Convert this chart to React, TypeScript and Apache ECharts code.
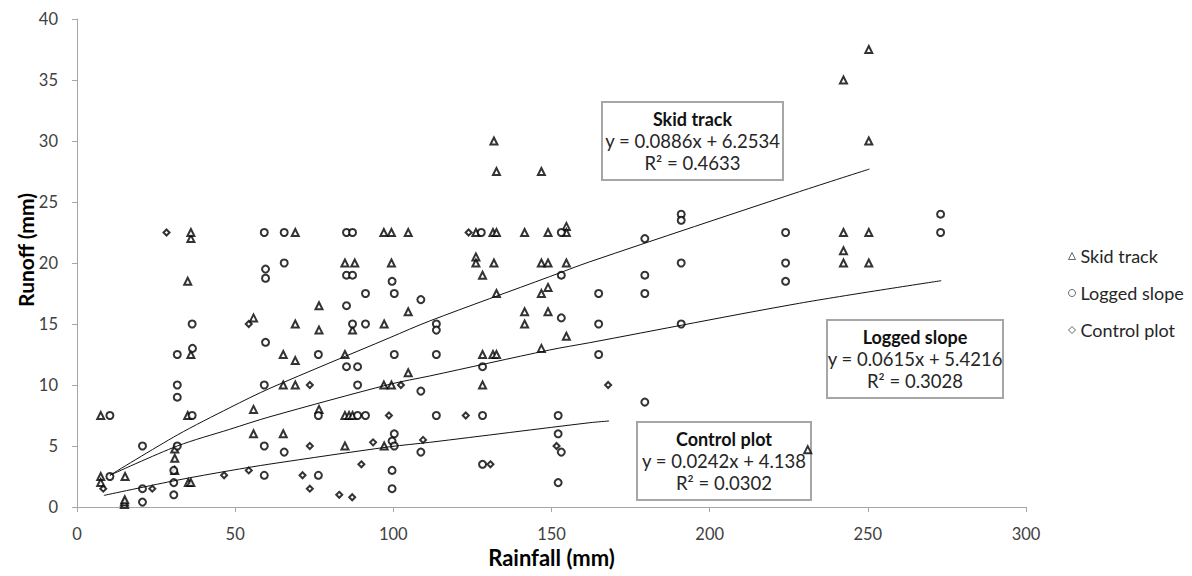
import React, { useEffect, useRef } from "react";
import * as echarts from "echarts";

const seriesNames = ["Skid track", "Logged slope", "Control plot"];

const skidTrack: [number, number][] = [
  [7.5, 7.5], [7.5, 2.5], [7.5, 2], [15.2, 2.5], [15, 0.2], [15, 0.4], [15.1, 0.6],
  [30.9, 4.75], [30.9, 4], [30.9, 3], [35.2, 2], [36, 2], [35, 7.5], [36, 12.5], [35, 18.5], [36, 22], [36, 22.5],
  [55.8, 15.5], [55.8, 8], [55.8, 6],
  [65.2, 12.5], [65.2, 10], [65.2, 6], [69, 22.5], [69, 15], [69, 12], [69, 10],
  [76.5, 16.5], [76.5, 14.5], [76.5, 8],
  [84.7, 20], [84.7, 12.5], [84.7, 7.5], [84.7, 5], [86, 7.5], [87.1, 7.5], [87.8, 20], [87.1, 14.5],
  [97, 22.5], [97.1, 15], [97, 10], [97.1, 5], [99.4, 22.5], [99.4, 20], [99.4, 10],
  [104.7, 22.5], [104.7, 16], [104.7, 11],
  [126.1, 22.5], [126.1, 20.5], [126.1, 20], [128.2, 19], [128.2, 12.5], [128.2, 10],
  [131.5, 22.5], [132.6, 22.5], [131.8, 30], [132.6, 27.5], [131.8, 20], [132.6, 17.5], [131.5, 12.5], [132.6, 12.5],
  [141.5, 22.5], [141.5, 16], [141.5, 15],
  [146.8, 27.5], [146.8, 20], [146.8, 17.5], [146.8, 13],
  [148.9, 22.5], [148.9, 20], [148.9, 18], [148.9, 16],
  [154.7, 23], [154.7, 22.5], [154.7, 20], [154.7, 14],
  [231, 4.7],
  [242.3, 35], [242.3, 22.5], [242.3, 21], [242.3, 20], [250.3, 37.5], [250.3, 30], [250.3, 22.5], [250.3, 20],
];

const loggedSlope: [number, number][] = [
  [10.4, 7.5], [10.4, 2.5], [20.7, 5], [20.7, 1.5], [20.7, 0.4],
  [31.7, 12.5], [31.7, 10], [31.7, 9], [31.7, 5], [30.6, 3], [30.6, 2], [30.6, 1],
  [36.4, 15], [36.5, 13], [36.4, 7.5],
  [59.2, 22.5], [59.6, 19.5], [59.6, 18.75], [59.6, 13.5], [59.2, 10], [59.2, 5], [59.2, 2.6],
  [65.5, 22.5], [65.5, 20], [65.5, 4.5],
  [76.3, 12.5], [76.3, 7.5], [76.3, 2.6],
  [85.2, 22.5], [87.1, 22.5], [85.2, 19], [87.1, 19], [85.2, 16.5], [87.1, 15], [85.2, 11.5], [88.7, 11.5],
  [88.7, 10], [88.7, 7.5], [91.2, 7.5], [91.2, 17.5], [91.2, 15],
  [99.6, 18.5], [100.3, 17.5], [100.3, 12.5], [100.3, 6], [99.6, 5.4], [100.3, 5], [99.6, 3], [99.6, 1.5],
  [108.7, 17], [108.7, 9.5], [108.7, 4.5],
  [113.6, 15], [113.6, 14.5], [113.6, 12.5], [113.6, 7.5],
  [127.8, 22.5], [128.2, 11.5], [128.2, 7.5], [128.2, 3.5],
  [152.1, 7.5], [152.1, 6], [153.1, 4.5], [152.1, 2], [153.1, 22.5], [153.1, 19], [153.1, 15.5],
  [164.9, 17.5], [164.9, 15], [164.9, 12.5],
  [179.5, 22], [179.5, 19], [179.5, 17.5], [179.5, 8.6],
  [191, 24], [191, 23.5], [191, 20], [191, 15],
  [224, 22.5], [224, 20], [224, 18.5],
  [273, 24], [273, 22.5],
];

const controlPlot: [number, number][] = [
  [8.3, 1.5], [23.8, 1.5], [28.3, 22.5], [46.5, 2.6], [54.3, 3], [54.3, 15],
  [71.3, 2.6], [73.6, 10], [73.6, 5], [73.6, 1.5], [82.9, 1], [87, 0.8], [89.9, 3.5],
  [93.6, 5.3], [98.6, 7.5], [102.4, 10], [109.4, 5.5], [122.9, 7.5], [123.8, 22.5],
  [130.7, 3.5], [151.6, 5], [167.9, 10],
];

// Trendline points
const skidTrend: [number, number][] = [
  [10.4, 2.6], [31.7, 5.9], [48.3, 8.14], [61, 9.73], [98.9, 13.88], [111.5, 15.25],
  [149.4, 18.88], [162.1, 20.1], [228.4, 25.85], [250.5, 27.7],
];
const loggedTrend: [number, number][] = [
  [10.4, 2.6], [31.7, 5.0], [48.3, 6.37], [61, 7.4], [98.9, 10.06], [111.5, 10.74],
  [149.4, 12.87], [162.1, 13.47], [228.4, 16.7], [273.2, 18.55],
];
const controlTrend: [number, number][] = [
  [8.5, 0.95], [31.7, 2.2], [48.3, 2.98], [61, 3.52], [98.9, 4.94], [111.5, 5.3],
  [162.1, 6.91], [168.2, 7.05],
];

const annotations = [
  { title: "Skid track", eq: "y = 0.0886x + 6.2534", r2: "R² = 0.4633" },
  { title: "Logged slope", eq: "y = 0.0615x + 5.4216", r2: "R² = 0.3028" },
  { title: "Control plot", eq: "y = 0.0242x + 4.138", r2: "R² = 0.0302" },
];

const FONT = "Lato, 'Noto Sans', sans-serif";

function box(a: { title: string; eq: string; r2: string }, x: number, y: number, w: number, h: number) {
  const cx = x + w / 2;
  return {
    type: "group",
    children: [
      { type: "rect", shape: { x, y, width: w, height: h }, style: { fill: "#fff", stroke: "#a6a6a6", lineWidth: 2 } },
      { type: "text", x: cx, y: y + 17, style: { text: a.title, font: `bold 18px ${FONT}`, fill: "#111", textAlign: "center", textVerticalAlign: "middle" } },
      { type: "text", x: cx, y: y + 39, style: { text: a.eq, font: `18.5px ${FONT}`, fill: "#262626", textAlign: "center", textVerticalAlign: "middle" } },
      { type: "text", x: cx, y: y + 61, style: { text: a.r2, font: `18.5px ${FONT}`, fill: "#262626", textAlign: "center", textVerticalAlign: "middle" } },
    ],
  };
}

export default function App() {
  const ref = useRef<HTMLDivElement>(null);
  useEffect(() => {
    const chart = echarts.init(ref.current!, null, { renderer: "svg" });
    const markerStyle = { color: "#ffffff", borderColor: "#000000", borderWidth: 2 };
    const trendStyle = { color: "#111", width: 1 };
    chart.setOption({
      animation: false,
      backgroundColor: "#ffffff",
      textStyle: { fontFamily: FONT },
      grid: { left: 77, top: 19, width: 949, height: 488, containLabel: false },
      xAxis: {
        type: "value",
        min: 0,
        max: 300,
        interval: 50,
        name: "Rainfall (mm)",
        nameLocation: "middle",
        nameGap: 39,
        nameTextStyle: { fontFamily: FONT, fontWeight: "bold", fontSize: 22, color: "#000" },
        axisLine: { show: true, onZero: false, lineStyle: { color: "#a6a6a6", width: 1 } },
        axisTick: { show: true, inside: false, length: 5, lineStyle: { color: "#a6a6a6" } },
        axisLabel: { margin: 18, fontSize: 16.5, color: "#404040", fontFamily: FONT },
        splitLine: { show: false },
      },
      yAxis: {
        type: "value",
        min: 0,
        max: 40,
        interval: 5,
        axisLine: { show: true, onZero: false, lineStyle: { color: "#a6a6a6", width: 1 } },
        axisTick: { show: true, inside: false, length: 5, lineStyle: { color: "#a6a6a6" } },
        axisLabel: { margin: 19, fontSize: 16.5, color: "#404040", fontFamily: FONT },
        splitLine: { show: false },
      },
      legend: {
        data: seriesNames,
        orient: "vertical",
        left: 1063,
        top: 241,
        itemWidth: 7,
        itemHeight: 7,
        itemGap: 17,
        textStyle: { fontSize: 18, color: "#262626", fontFamily: FONT, lineHeight: 20 },
        itemStyle: { color: "#fff", borderColor: "#444", borderWidth: 1 },
      },
      graphic: [
        {
          type: "text",
          x: 25,
          y: 250,
          rotation: Math.PI / 2,
          style: { text: "Runoff (mm)", font: `bold 21px ${FONT}`, fill: "#000", textAlign: "center", textVerticalAlign: "middle" },
        },
        box(annotations[0], 602, 102, 181, 78),
        box(annotations[1], 827, 320, 176, 78),
        box(annotations[2], 637, 422, 174, 78),
      ],
      series: [
        { name: seriesNames[0], type: "scatter", data: skidTrack, symbol: "triangle", symbolSize: 7, itemStyle: markerStyle, z: 3 },
        { name: seriesNames[1], type: "scatter", data: loggedSlope, symbol: "circle", symbolSize: 7, itemStyle: markerStyle, z: 3 },
        { name: seriesNames[2], type: "scatter", data: controlPlot, symbol: "diamond", symbolSize: 6, itemStyle: markerStyle, z: 3 },
        { name: "Skid trend", type: "line", data: skidTrend, showSymbol: false, smooth: 0.3, lineStyle: trendStyle, z: 4, silent: true },
        { name: "Logged trend", type: "line", data: loggedTrend, showSymbol: false, smooth: 0.3, lineStyle: trendStyle, z: 4, silent: true },
        { name: "Control trend", type: "line", data: controlTrend, showSymbol: false, smooth: 0.3, lineStyle: trendStyle, z: 4, silent: true },
      ],
    });
    return () => chart.dispose();
  }, []);
  return (
    <div
      ref={ref}
      style={{ position: "fixed", left: 0, top: 0, width: 1192, height: 576, background: "#fff" }}
    />
  );
}
